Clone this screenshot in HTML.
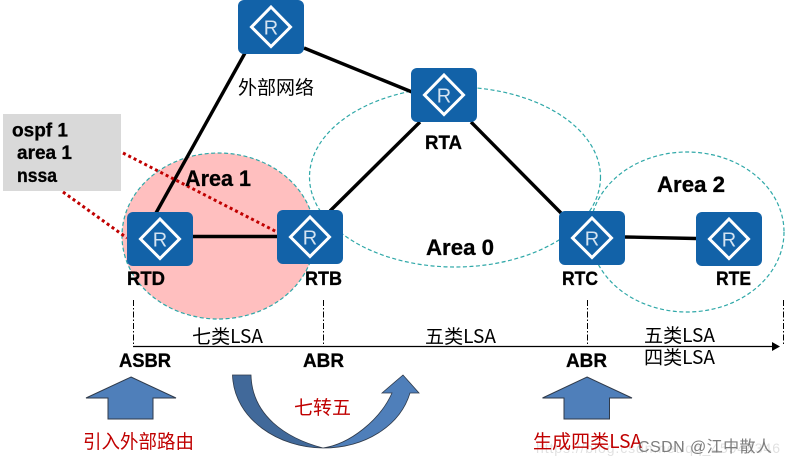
<!DOCTYPE html>
<html><head><meta charset="utf-8">
<style>
html,body{margin:0;padding:0;background:#fff}
svg{display:block}
text{font-family:"Liberation Sans","Noto Sans CJK SC",sans-serif}
.b{font-weight:bold;fill:#000;stroke:#000;stroke-width:.3}
.c{font-family:"Noto Sans CJK SC","Liberation Sans",sans-serif}
</style></head>
<body>
<svg width="788" height="463" viewBox="0 0 788 463" xmlns="http://www.w3.org/2000/svg">
<defs>
<g id="r">
<rect width="66" height="54" rx="6" fill="#1262a8"/>
<polygon points="33,7 52.500,27 33,46.500 13.500,27" fill="none" stroke="#fff" stroke-width="3"/>
<text x="33" y="34.500" text-anchor="middle" font-size="20" fill="#d4e3f1">R</text>
</g>
</defs>
<ellipse cx="218.500" cy="236" rx="96.500" ry="83" fill="#ffbfbf" stroke="#2fa8a8" stroke-width="1.200" stroke-dasharray="4 2.500"/>
<ellipse cx="455" cy="177" rx="145.500" ry="90" fill="none" stroke="#2fa8a8" stroke-width="1.200" stroke-dasharray="4 2.500"/>
<ellipse cx="687" cy="232" rx="97" ry="80" fill="none" stroke="#2fa8a8" stroke-width="1.200" stroke-dasharray="4 2.500"/>

<g stroke="#000" stroke-width="3.400" fill="none">
<line x1="245" y1="53" x2="156" y2="213"/>
<line x1="304" y1="48" x2="412" y2="92"/>
<line x1="193" y1="236.500" x2="277" y2="236.500"/>
<line x1="330" y1="211" x2="420" y2="122"/>
<line x1="471" y1="122" x2="561" y2="213"/>
<line x1="625" y1="237" x2="696" y2="238.500"/>
</g>
<g stroke="#c00000" stroke-width="3" fill="none" stroke-dasharray="3 3">
<line x1="123" y1="153" x2="277" y2="232"/>
<line x1="63" y1="192" x2="127" y2="238"/>
</g>
<rect x="3" y="114" width="118" height="77" fill="#d9d9d9"/>
<use href="#r" x="238" y="0"/>
<use href="#r" x="127" y="212"/>
<use href="#r" x="277" y="210"/>
<use href="#r" x="411" y="68"/>
<use href="#r" x="559" y="211"/>
<use href="#r" x="696" y="212"/>

<text class="b" x="12" y="136.500" font-size="19" textLength="56" lengthAdjust="spacingAndGlyphs">ospf 1</text>
<text class="b" x="17" y="159" font-size="19" textLength="55" lengthAdjust="spacingAndGlyphs">area 1</text>
<text class="b" x="17" y="182" font-size="19" textLength="40" lengthAdjust="spacingAndGlyphs">nssa</text>
<text class="c" x="238" y="94" font-size="19" textLength="76" lengthAdjust="spacingAndGlyphs" fill="#000">外部网络</text>
<text class="b" x="185" y="186" font-size="22" textLength="66" lengthAdjust="spacingAndGlyphs">Area 1</text>
<text class="b" x="426" y="255" font-size="22" textLength="68" lengthAdjust="spacingAndGlyphs">Area 0</text>
<text class="b" x="657" y="192" font-size="22" textLength="68" lengthAdjust="spacingAndGlyphs">Area 2</text>
<text class="b" x="127" y="285" font-size="19" textLength="38" lengthAdjust="spacingAndGlyphs">RTD</text>
<text class="b" x="305" y="285" font-size="19" textLength="37" lengthAdjust="spacingAndGlyphs">RTB</text>
<text class="b" x="425" y="149" font-size="19" textLength="37" lengthAdjust="spacingAndGlyphs">RTA</text>
<text class="b" x="562" y="285" font-size="19" textLength="36" lengthAdjust="spacingAndGlyphs">RTC</text>
<text class="b" x="716" y="285" font-size="19" textLength="35" lengthAdjust="spacingAndGlyphs">RTE</text>

<g stroke="#000" stroke-width="1" stroke-dasharray="6 2 1.500 2" fill="none">
<line x1="133.500" y1="300" x2="133.500" y2="346"/>
<line x1="323.500" y1="300" x2="323.500" y2="346"/>
<line x1="587.500" y1="300" x2="587.500" y2="346"/>
<line x1="783.500" y1="300" x2="783.500" y2="346"/>
</g>
<line x1="133" y1="346.500" x2="773" y2="346.500" stroke="#000" stroke-width="1.300"/>
<polygon points="772,342 780,346.500 772,351" fill="#000"/>

<text class="c" x="192" y="343" font-size="19" textLength="71" lengthAdjust="spacingAndGlyphs" fill="#000">七类LSA</text>
<text class="c" x="425" y="343" font-size="19" textLength="71" lengthAdjust="spacingAndGlyphs" fill="#000">五类LSA</text>
<text class="c" x="644" y="342" font-size="19" textLength="71" lengthAdjust="spacingAndGlyphs" fill="#000">五类LSA</text>
<text class="c" x="644" y="364" font-size="19" textLength="71" lengthAdjust="spacingAndGlyphs" fill="#000">四类LSA</text>
<text class="b" x="119" y="367" font-size="19" textLength="52" lengthAdjust="spacingAndGlyphs">ASBR</text>
<text class="b" x="303" y="367" font-size="19" textLength="41" lengthAdjust="spacingAndGlyphs">ABR</text>
<text class="b" x="566" y="367" font-size="19" textLength="41" lengthAdjust="spacingAndGlyphs">ABR</text>

<g fill="#4f7fba" stroke="#2f3a4a" stroke-width="1">
<polygon points="131,377 176,398 153,398 153,419 108,419 108,398 86,398"/>
<polygon points="587,377 632,398 609.500,398 609.500,419 564,419 564,398 542.500,398"/>
</g>
<path d="M323 448 C365 448 400 426 410 393 L419 393 L403 375 L382 393 L392 393 C380 420 350 444 323 448 Z" fill="#4f7fba" stroke="#2f3a4a" stroke-width="0.800"/>
<path d="M232.500 375 C234 420 280 448 323 448 C285 438 252 415 251 375 Z" fill="#41699a" stroke="#2f3a4a" stroke-width="0.800"/>

<text class="c" x="294" y="414" font-size="19" textLength="57" lengthAdjust="spacingAndGlyphs" fill="#c00000">七转五</text>
<text class="c" x="83" y="448" font-size="19" textLength="111" lengthAdjust="spacingAndGlyphs" fill="#c00000">引入外部路由</text>
<text x="536" y="453" font-size="14" textLength="244" fill="#000" fill-opacity="0.120">https://blog.csdn.net/qq_45944346</text>
<text class="c" x="533" y="448" font-size="19" textLength="109" lengthAdjust="spacingAndGlyphs" fill="#c00000">生成四类LSA</text>
<text x="638" y="452" font-size="16" textLength="134" fill="#6f6f6f" fill-opacity="0.900">CSDN @江中散人</text>
</svg>
</body></html>
